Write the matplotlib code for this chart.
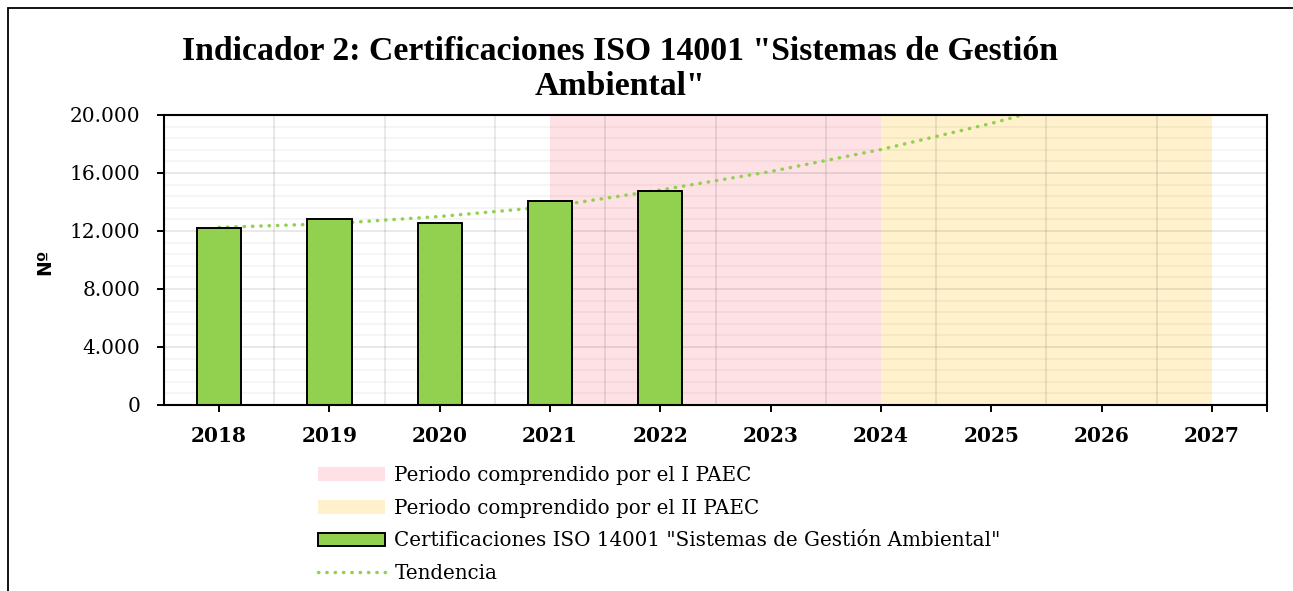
import numpy as np
import matplotlib
matplotlib.use('Agg')
import matplotlib.pyplot as plt
from matplotlib.patches import Patch, Rectangle
from matplotlib.lines import Line2D
from matplotlib.ticker import MultipleLocator, FuncFormatter

# data
YEARS        = ['2018', '2019', '2020', '2021', '2022', '2023', '2024', '2025', '2026', '2027']
CERT_YEARS   = ['2018', '2019', '2020', '2021', '2022']
CERT_VALUES  = [12190, 12850, 12540, 14090, 14760]
TREND_YEARS  = ['2018', '2019', '2020', '2021', '2022', '2023', '2024', '2025', '2026']
TREND_VALUES = [12250, 12500, 13000, 13680, 14830, 16100, 17620, 19420, 21500]
PAEC1 = ('2021', '2024')   # Periodo I PAEC
PAEC2 = ('2024', '2027')   # Periodo II PAEC

TITLE = 'Indicador 2: Certificaciones ISO 14001 "Sistemas de Gestión\nAmbiental"'
LEG_LABELS = ['Periodo comprendido por el I PAEC',
              'Periodo comprendido por el II PAEC',
              'Certificaciones ISO 14001 "Sistemas de Gestión Ambiental"',
              'Tendencia']

GREEN  = '#92D050'
PINK   = '#FEE1E4'
YELLOW = '#FFF1CC'

pos = {y: i for i, y in enumerate(YEARS)}

fig = plt.figure(figsize=(12.93, 5.91), dpi=100)
ax = fig.add_axes([164/1293, 1 - 405/591, (1267 - 164)/1293, (405 - 115)/591])

# shaded PAEC periods (below the grid)
ax.axvspan(pos[PAEC1[0]], pos[PAEC1[1]], color=PINK, lw=0, zorder=0)
ax.axvspan(pos[PAEC2[0]], pos[PAEC2[1]], color=YELLOW, lw=0, zorder=0)

# trend line (behind the bars)
ax.plot([pos[y] for y in TREND_YEARS], TREND_VALUES, color=GREEN, lw=2.5,
        linestyle=(0, (0.1, 2.3)), dash_capstyle='round', zorder=1.5)

ax.bar([pos[y] for y in CERT_YEARS], CERT_VALUES, width=0.4, color=GREEN,
       edgecolor='black', linewidth=1.4, zorder=2)

ax.set_xlim(-0.5, len(YEARS) - 0.5)
ax.set_ylim(0, 20000)
# category ticks plus the closing tick at the right edge
ax.set_xticks(list(range(len(YEARS))) + [len(YEARS) - 0.5])
ax.set_xticklabels(YEARS + [''], fontfamily='DejaVu Serif', fontweight='bold', fontsize=14.5)
ax.set_xticks(np.arange(0.5, len(YEARS) - 1, 1), minor=True)
ax.yaxis.set_major_locator(MultipleLocator(4000))
ax.yaxis.set_minor_locator(MultipleLocator(800))
ax.yaxis.set_major_formatter(FuncFormatter(lambda v, p: f'{int(v):,}'.replace(',', '.')))
for lab in ax.get_yticklabels():
    lab.set_fontfamily('DejaVu Serif')
    lab.set_fontsize(14.5)

ax.tick_params(axis='both', which='major', length=5, width=1.4, direction='out')
ax.tick_params(axis='x', which='major', pad=10)
ax.tick_params(axis='y', which='major', pad=12)
ax.tick_params(which='minor', length=0)

ax.set_axisbelow(True)
ax.grid(True, which='major', axis='y', color='black', alpha=0.11, lw=1.1)
ax.grid(True, which='minor', axis='y', color='black', alpha=0.05, lw=1.1)
ax.grid(True, which='minor', axis='x', color='black', alpha=0.11, lw=1.1)
for sp in ax.spines.values():
    sp.set_linewidth(1.5)
    sp.set_zorder(3)

fig.text(620/1293, 1 - 69/591, TITLE, ha='center', va='center', fontsize=24.3,
         fontweight='bold', fontfamily='Liberation Serif', linespacing=1.15)
fig.text(45/1293, 1 - 262/591, 'Nº', rotation=90, ha='center', va='center',
         fontsize=13.5, fontweight='bold', fontfamily='DejaVu Sans')

handles = [Patch(facecolor=PINK, edgecolor='none'),
           Patch(facecolor=YELLOW, edgecolor='none'),
           Patch(facecolor=GREEN, edgecolor='black', linewidth=1.4),
           Line2D([], [], color=GREEN, lw=2.5, linestyle=(0, (0.1, 2.3)), dash_capstyle='round')]
fig.legend(handles, LEG_LABELS, loc='upper left', bbox_to_anchor=(318/1293, 1 - 466/591),
           frameon=False, borderpad=0, borderaxespad=0, handlelength=3.35,
           handletextpad=0.5, labelspacing=0.69,
           prop={'family': 'DejaVu Serif', 'size': 14.3})

# outer chart frame (left and top edges visible)
fig.add_artist(Rectangle((8/1293, -0.1), 1.5, 1.1 - 8/591, transform=fig.transFigure,
                         fill=False, edgecolor='black', linewidth=1.3))

fig.savefig('out.png', dpi=100)
